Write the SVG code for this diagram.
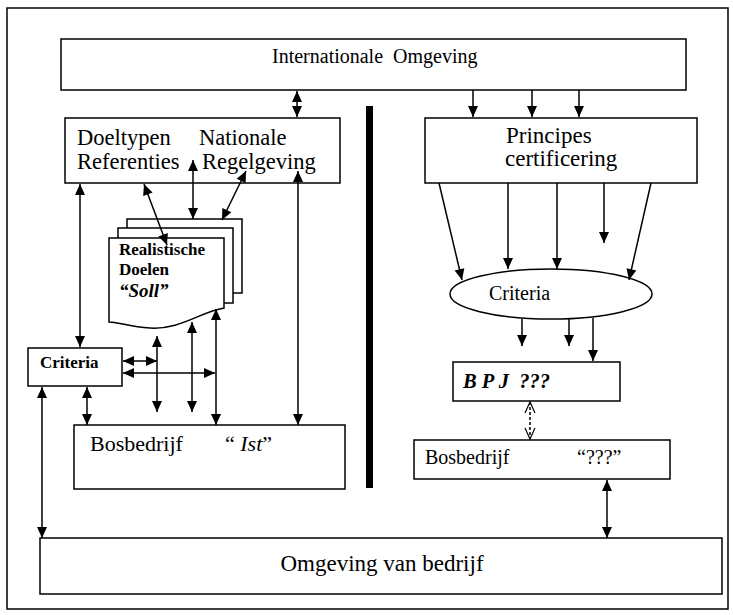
<svg xmlns="http://www.w3.org/2000/svg" width="733" height="615" viewBox="0 0 733 615" font-size="20">
<style>
.box{fill:#fff;stroke:#000;stroke-width:1.5}
.t{font-family:"Liberation Serif","Times New Roman",serif;fill:#000}
.b{font-weight:bold}
.i{font-style:italic}
.c{stroke:#000;stroke-width:1.5;fill:none}
.dbl{marker-start:url(#ah);marker-end:url(#ah)}
.one{marker-end:url(#ah)}
.open{marker-start:url(#oh);marker-end:url(#oh);stroke-dasharray:3 2}
</style>
<defs>
<marker id="ah" markerUnits="userSpaceOnUse" markerWidth="11" markerHeight="10" refX="11" refY="5" orient="auto-start-reverse" overflow="visible">
<path d="M0,0 L11,5 L0,10 Z" fill="#000"/>
</marker>
<marker id="oh" markerUnits="userSpaceOnUse" markerWidth="11" markerHeight="10" refX="11" refY="5" orient="auto-start-reverse" overflow="visible">
<path d="M0,0 L11,5 L0,10" fill="none" stroke="#000" stroke-width="1.2"/>
</marker>
</defs>
<rect width="733" height="615" fill="#fff"/>
<rect id="frame" x="7" y="8" width="721" height="601" fill="none" stroke="#000" stroke-width="1.5"/>
<rect id="divider" x="366" y="106" width="7" height="382" fill="#000"/>

<g id="intl">
<rect class="box" x="61" y="39" width="625" height="51"/>
<text class="t" x="272" y="63" font-size="20" xml:space="preserve">Internationale  Omgeving</text>
</g>
<g id="nationaal">
<rect class="box" x="65" y="118" width="275" height="65"/>
<text class="t" x="77" y="145" font-size="22.5">Doeltypen</text>
<text class="t" x="199" y="145" font-size="22.5">Nationale</text>
<text class="t" x="77" y="169" font-size="22.5">Referenties</text>
<text class="t" x="202" y="169" font-size="22.5">Regelgeving</text>
</g>
<g id="principes">
<rect class="box" x="425" y="118" width="272" height="65"/>
<text class="t" x="506" y="143" font-size="23">Principes</text>
<text class="t" x="505" y="166" font-size="23">certificering</text>
</g>
<g id="doelen">
<rect class="box" x="127" y="219" width="115" height="74"/>
<rect class="box" x="118" y="228" width="115" height="75"/>
<path class="box" d="M109,238 H224 V308 C200,312 180,330 150,328 C130,327 118,322 109,322 Z"/>
<text class="t b" x="119" y="255" font-size="17">Realistische</text>
<text class="t b" x="119" y="275" font-size="17">Doelen</text>
<text class="t b i" x="119" y="297" font-size="19">“Soll”</text>
</g>
<g id="criteria-left">
<rect class="box" x="28" y="348" width="94" height="38"/>
<text class="t b" x="40" y="368" font-size="17">Criteria</text>
</g>
<g id="bos-ist">
<rect class="box" x="74" y="425" width="271" height="64"/>
<text class="t" x="90" y="451" font-size="22">Bosbedrijf</text>
<text class="t" x="225" y="451" font-size="22" xml:space="preserve">“ <tspan class="i">Ist</tspan>”</text>
</g>
<g id="criteria-right">
<ellipse class="box" cx="551" cy="294" rx="101" ry="25"/>
<text class="t" x="489" y="300" font-size="20">Criteria</text>
</g>
<g id="bpj">
<rect class="box" x="453" y="362" width="167" height="39"/>
<text class="t b i" x="463" y="388" font-size="20.5" xml:space="preserve">B P J  ???</text>
</g>
<g id="bos-q">
<rect class="box" x="414" y="440" width="256" height="39"/>
<text class="t" x="425" y="464" font-size="20">Bosbedrijf</text>
<text class="t" x="577" y="464" font-size="20">“???”</text>
</g>
<g id="omgeving">
<rect class="box" x="40" y="538" width="682" height="56"/>
<text class="t" x="382" y="571" text-anchor="middle" font-size="23">Omgeving van bedrijf</text>
</g>

<g id="connectors">
<line class="c dbl" x1="297" y1="91" x2="297" y2="117"/>
<line class="c one" x1="473" y1="90" x2="473" y2="117"/>
<line class="c one" x1="532" y1="90" x2="532" y2="117"/>
<line class="c one" x1="579" y1="90" x2="579" y2="117"/>

<line class="c dbl" x1="80" y1="184" x2="80" y2="347"/>
<line class="c dbl" x1="144" y1="184" x2="167" y2="245"/>
<line class="c dbl" x1="193" y1="160" x2="193" y2="219"/>
<line class="c dbl" x1="246" y1="171" x2="222" y2="220"/>
<line class="c dbl" x1="298" y1="171" x2="298" y2="425"/>

<line class="c dbl" x1="157" y1="336" x2="157" y2="412"/>
<line class="c dbl" x1="192" y1="322" x2="192" y2="412"/>
<line class="c dbl" x1="216" y1="309" x2="216" y2="425"/>
<line class="c dbl" x1="123" y1="361" x2="157" y2="361"/>
<line class="c dbl" x1="123" y1="373" x2="215" y2="373"/>
<line class="c dbl" x1="87" y1="387" x2="87" y2="425"/>
<line class="c dbl" x1="42" y1="387" x2="42" y2="538"/>

<line class="c one" x1="439" y1="183" x2="462" y2="280"/>
<line class="c one" x1="508" y1="183" x2="508" y2="269"/>
<line class="c one" x1="557" y1="183" x2="557" y2="269"/>
<line class="c one" x1="604" y1="183" x2="604" y2="243"/>
<line class="c one" x1="651" y1="183" x2="629" y2="280"/>

<line class="c one" x1="522" y1="319" x2="522" y2="346"/>
<line class="c one" x1="569" y1="319" x2="569" y2="346"/>
<line class="c one" x1="593" y1="318" x2="593" y2="361"/>

<line class="c open" x1="530" y1="402" x2="530" y2="439"/>
<line class="c dbl" x1="607" y1="480" x2="607" y2="538"/>
</g>
</svg>
